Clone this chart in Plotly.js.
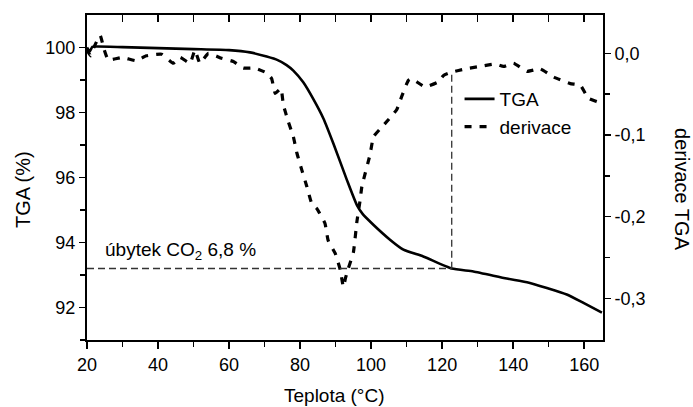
<!DOCTYPE html>
<html><head><meta charset="utf-8">
<script src="https://cdn.plot.ly/plotly-3.0.1.min.js"></script>
<style>html,body{margin:0;padding:0;background:#fff}#chart{width:693px;height:407px}</style>
</head><body><div id="chart"></div>
<script>
const tgaT = [20, 20.8, 21.5, 23, 30, 40, 50, 60, 65.9, 70.6, 73.7, 76.2, 78.1, 80.9, 83.7, 86.6, 89.4, 93.2, 96, 97.6, 100.7, 105.4, 109.1, 114.7, 122.7, 128.8, 138.2, 143.9, 149.5, 155.1, 159.8, 165];
const tgaV = [100.0, 99.88, 100.02, 100.03, 100.01, 99.98, 99.95, 99.92, 99.85, 99.72, 99.61, 99.46, 99.29, 98.93, 98.42, 97.81, 97.04, 95.92, 95.15, 94.88, 94.54, 94.08, 93.78, 93.57, 93.2, 93.11, 92.89, 92.78, 92.6, 92.4, 92.14, 91.84];
const derT = [20, 21, 22, 23.7, 24.8, 26, 30, 33.9, 36.7, 41, 44.3, 46.2, 49, 50.4, 51.8, 54.2, 57.9, 61.2, 64, 67.3, 70.6, 72, 73, 74.6, 75.3, 76.7, 78.1, 79.1, 80.5, 81.9, 83.3, 84.7, 87, 87.9, 89.9, 91.3, 92.2, 92.8, 93.6, 95, 96, 96.9, 97.4, 99.7, 100.7, 103.5, 107.2, 108.6, 110.5, 111.4, 115.2, 118.9, 120.4, 122.7, 126.5, 130.7, 134.9, 137.3, 140.1, 143.9, 147.6, 151.4, 156.1, 158.9, 161.2, 164.5, 165];
const derV = [0.004, -0.003, 0.008, 0.022, 0.005, -0.008, -0.005, -0.009, -0.003, -0.001, -0.012, -0.005, -0.012, 0.004, -0.012, 0, -0.006, -0.01, -0.018, -0.018, -0.024, -0.031, -0.049, -0.043, -0.063, -0.084, -0.102, -0.122, -0.143, -0.163, -0.184, -0.19, -0.208, -0.229, -0.245, -0.265, -0.286, -0.275, -0.263, -0.244, -0.206, -0.18, -0.163, -0.124, -0.102, -0.088, -0.069, -0.053, -0.033, -0.031, -0.041, -0.035, -0.027, -0.023, -0.019, -0.016, -0.013, -0.016, -0.012, -0.022, -0.019, -0.029, -0.037, -0.039, -0.055, -0.061, -0.065];
const xTicks = [20, 40, 60, 80, 100, 120, 140, 160];
const xMinor = [30, 50, 70, 90, 110, 130, 150];
const yTicks = [92, 94, 96, 98, 100];
const yMinor = [91, 93, 95, 97, 99];
const y2Vals = [0, -0.1, -0.2, -0.3];
const y2Text = ['0,0', '-0,1', '-0,2', '-0,3'];
const y2Minor = [-0.05, -0.15, -0.25];
const lossLevel = 93.2;
const lossLevelDer = -0.2637;
const lossT = 122.7;
const lossDer = -0.023;

const F = 'Arial, "Liberation Sans", sans-serif';
const traces = [
  {x: tgaT, y: tgaV, name: 'TGA', mode: 'lines', line: {color: '#000', width: 2.6, shape: 'spline', smoothing: 0.5}, xaxis: 'x', yaxis: 'y'},
  {x: derT, y: derV, name: 'derivace', mode: 'lines', line: {color: '#000', width: 3.2, dash: '7px,8px', shape: 'spline', smoothing: 0.4}, xaxis: 'x', yaxis: 'y2'},
  {x: [20], y: [95], mode: 'none', showlegend: false, hoverinfo: 'skip', xaxis: 'x2', yaxis: 'y'}
];
const axLine = {showline: true, linewidth: 2, linecolor: '#000', showgrid: false, zeroline: false, tickwidth: 1.5, tickcolor: '#000'};
const layout = {
  width: 693, height: 407,
  margin: {l: 87, r: 90, t: 15, b: 67},
  paper_bgcolor: '#fff', plot_bgcolor: '#fff',
  font: {family: F, size: 18, color: '#000'},
  showlegend: true,
  legend: {x: 0.722, y: 0.80, xanchor: 'left', yanchor: 'top', bgcolor: 'rgba(0,0,0,0)', font: {size: 19, family: F}, tracegroupgap: 0},
  xaxis: Object.assign({range: [20, 165.3], tickvals: xTicks, ticks: 'outside', ticklen: 7,
    minor: {tickvals: xMinor, ticks: 'outside', ticklen: 5, tickwidth: 1.5}, tickfont: {size: 18}}, axLine),
  xaxis2: Object.assign({overlaying: 'x', side: 'top', matches: 'x', range: [20, 165.3], tickvals: xTicks, ticks: 'inside', ticklen: 7, showticklabels: false,
    minor: {tickvals: xMinor, ticks: 'inside', ticklen: 7, tickwidth: 1.5}}, axLine),
  yaxis: Object.assign({range: [91, 101], tickvals: yTicks, ticks: 'outside', ticklen: 6,
    minor: {tickvals: yMinor, ticks: 'outside', ticklen: 5, tickwidth: 1.5}, tickfont: {size: 18}}, axLine),
  yaxis2: Object.assign({overlaying: 'y', side: 'right', range: [-0.351, 0.047], tickvals: y2Vals, ticktext: y2Text, ticks: 'outside', ticklen: 6,
    minor: {tickvals: y2Minor, ticks: 'outside', ticklen: 5, tickwidth: 1.5}, tickfont: {size: 18}}, axLine),
  shapes: [
    {type: 'line', xref: 'x', yref: 'y', x0: 20, x1: lossT, y0: lossLevel, y1: lossLevel, line: {color: '#333', width: 1.3, dash: '7px,4px'}},
    {type: 'line', xref: 'x', yref: 'y2', x0: lossT, x1: lossT, y0: lossLevelDer, y1: lossDer, line: {color: '#333', width: 1.3, dash: '7px,4px'}}
  ],
  annotations: [
    {xref: 'x', yref: 'y', x: 24.5, y: 93.75, xanchor: 'left', yanchor: 'middle', showarrow: false, text: 'úbytek CO<sub>2</sub> 6,8 %', font: {size: 19, family: F}},
    {xref: 'paper', yref: 'paper', x: 0.479, y: -0.172, xanchor: 'center', yanchor: 'middle', showarrow: false, text: 'Teplota (°C)', font: {size: 19, family: F}},
    {xref: 'paper', yref: 'paper', x: -0.124, y: 0.4615, xanchor: 'center', yanchor: 'middle', showarrow: false, textangle: -90, text: 'TGA (%)', font: {size: 20, family: F}},
    {xref: 'paper', yref: 'paper', x: 1.153, y: 0.4615, xanchor: 'center', yanchor: 'middle', showarrow: false, textangle: 90, text: 'derivace TGA', font: {size: 20, family: F}}
  ]
};
Plotly.newPlot('chart', traces, layout, {displayModeBar: false, staticPlot: true});
</script></body></html>
